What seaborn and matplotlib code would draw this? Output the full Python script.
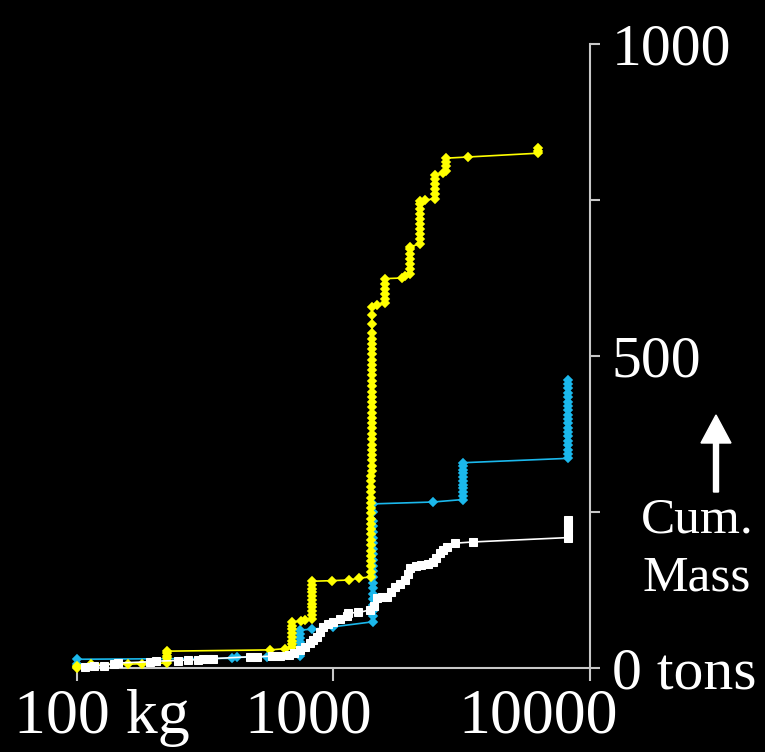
import matplotlib
matplotlib.use("Agg")
import matplotlib.pyplot as plt
import matplotlib.transforms as mtransforms
import pandas as pd
import seaborn as sns
from matplotlib.patches import FancyArrow

sns.set_style("dark", {"axes.facecolor": "black", "figure.facecolor": "black"})
plt.rcParams.update({
    "font.family": ["Liberation Serif", "DejaVu Serif"],
})

# yellow series: size (kg) vs cumulative mass (tons)
yellow_x = [100, 100, 100, 113, 158, 179,
            225, 225, 225, 225, 225, 225,
            565, 647,
            687, 687, 687, 687, 687, 687, 687, 687,
            745, 774,
            822, 822, 822, 822, 822, 822, 822, 822, 822, 822, 822,
            989, 1148, 1256,
            1400, 1400, 1400, 1400, 1400, 1400, 1400, 1400, 1400, 1400,
            1405, 1405, 1405, 1405, 1405, 1405, 1405, 1405, 1405, 1405,
            1410, 1410, 1410, 1410, 1410, 1410, 1410, 1410, 1410, 1410,
            1410, 1410, 1410, 1410, 1410, 1410, 1410, 1410, 1410, 1410,
            1415, 1415, 1415, 1415, 1415, 1415, 1415, 1415, 1415, 1415,
            1473,
            1589, 1589, 1589, 1589, 1589, 1589,
            1845, 1901,
            1986, 1986, 1986, 1986, 1986, 1986, 1986,
            2180, 2180, 2180, 2180, 2180, 2180, 2180, 2180, 2180, 2180,
            2275,
            2490, 2490, 2490, 2490, 2490, 2490,
            2680,
            2737, 2737, 2737, 2737,
            3357,
            6282, 6282, 6282]
yellow_y = [0, 2, 4, 6, 6, 7,
            8, 12, 16, 20, 24, 27,
            29, 31,
            33, 38, 44, 50, 56, 62, 68, 74,
            75, 77,
            79, 85, 91, 97, 103, 109, 115, 121, 127, 133, 139,
            140, 141, 144,
            146, 154, 163, 171, 180, 188, 197, 205, 214, 222,
            231, 239, 248, 256, 265, 273, 282, 290, 299, 307,
            316, 324, 333, 341, 350, 358, 367, 375, 384, 392,
            401, 409, 418, 426, 435, 443, 452, 460, 469, 477,
            486, 494, 503, 511, 520, 528, 537, 552, 566, 579,
            582,
            585, 592, 600, 608, 616, 624,
            625, 628,
            632, 640, 648, 656, 664, 672, 675,
            680, 688, 696, 704, 712, 720, 728, 736, 744, 748,
            750,
            752, 760, 768, 776, 784, 790,
            793,
            797, 804, 811, 817,
            819,
            825, 829, 834]

# cyan series
cyan_x = [100, 100, 401, 420, 549,
          740, 740, 740, 740, 740, 740, 740,
          822, 997,
          1422, 1422, 1422, 1422, 1422, 1422, 1422, 1422, 1422, 1422,
          1422, 1422, 1422, 1422, 1422, 1422, 1422, 1422, 1422, 1422, 1422,
          2439,
          3207, 3207, 3207, 3207, 3207, 3207, 3207, 3207, 3207, 3207, 3207,
          8224, 8224, 8224, 8224, 8224, 8224, 8224, 8224, 8224, 8224,
          8224, 8224, 8224, 8224, 8224, 8224, 8224, 8224, 8224]
cyan_y = [6, 14, 15.5, 17, 18,
          20, 27, 34, 41, 48, 55, 61,
          62, 66,
          74, 83, 92, 101, 110, 119, 128, 137, 146, 155,
          164, 173, 182, 191, 200, 209, 218, 227, 236, 250, 263,
          266,
          270, 276, 282, 288, 294, 300, 306, 312, 318, 324, 329,
          336, 343, 350, 357, 364, 371, 378, 385, 392, 399,
          406, 413, 420, 427, 434, 441, 448, 455, 461]

# white series
white_x = [107, 116, 127, 139, 145, 192, 204, 248, 272, 297, 311, 325, 338,
           472, 505, 575, 619, 668, 700, 740, 775, 810, 835, 860, 885, 912,
           950, 1000, 1060, 1126, 1142, 1251, 1390, 1440, 1472, 1540, 1616,
           1680, 1738, 1820, 1901, 1950, 1986, 2100, 2199, 2330, 2449, 2520,
           2601, 2680, 2763, 2973, 3504,
           8224, 8224, 8224, 8224, 8224]
white_y = [2, 3, 4, 7, 8, 10, 11, 12, 13, 13, 14, 14, 15,
           18, 18, 19, 20, 21, 24, 29, 34, 40, 45, 50, 58, 66,
           70, 74, 79, 84, 88, 89, 93, 100, 112, 113, 114,
           122, 130, 135, 141, 150, 160, 163, 165, 167, 170, 177,
           184, 189, 194, 200, 202,
           209, 217, 225, 233, 237]

x_ticks = [100, 1000, 10000]
x_labels = ["100 kg", "1000", "10000"]
y_ticks = [0, 250, 500, 750, 1000]
y_labels = ["0 tons", "", "500", "", "1000"]

yellow_df = pd.DataFrame({"size": yellow_x, "mass": yellow_y})
cyan_df = pd.DataFrame({"size": cyan_x, "mass": cyan_y})
white_df = pd.DataFrame({"size": white_x, "mass": white_y})

fig = plt.figure(figsize=(7.65, 7.52), dpi=100)
ax = fig.add_axes([77 / 765, 84 / 752, 513 / 765, 624 / 752])
ax.set_facecolor("black")

cyan = "#1BB8EC"
sns.lineplot(data=cyan_df, x="size", y="mass", ax=ax, sort=False, estimator=None,
             color=cyan, linewidth=1.2, marker="D", markersize=3.6,
             markeredgewidth=1.2, markeredgecolor=cyan, zorder=3, clip_on=False)
sns.lineplot(data=yellow_df, x="size", y="mass", ax=ax, sort=False, estimator=None,
             color="#FFFF00", linewidth=1.2, marker="D", markersize=3.6,
             markeredgewidth=1.2, markeredgecolor="#FFFF00", zorder=4, clip_on=False)
sns.lineplot(data=white_df, x="size", y="mass", ax=ax, sort=False, estimator=None,
             color="white", linewidth=1.2, marker="s", markersize=6,
             markeredgecolor="white", zorder=5, clip_on=False)

ax.set_xscale("log")
ax.set_xlim(100, 10000)
ax.set_ylim(0, 1000)
ax.set_xlabel("")
ax.set_ylabel("")
ax.grid(False)

ax.set_xticks(x_ticks)
ax.set_xticklabels(x_labels)
ax.xaxis.set_minor_locator(matplotlib.ticker.NullLocator())
ax.yaxis.tick_right()
ax.set_yticks(y_ticks)
ax.set_yticklabels(y_labels)

for side in ["left", "top"]:
    ax.spines[side].set_visible(False)
for side in ["right", "bottom"]:
    ax.spines[side].set_visible(True)
    ax.spines[side].set_color("#C8C8C8")
    ax.spines[side].set_linewidth(1.5)

ax.tick_params(axis="x", direction="out", length=9, width=1.5, color="#C8C8C8",
               labelcolor="white", labelsize=46, pad=6, bottom=True)
ax.tick_params(axis="y", direction="out", length=7.5, width=1.5, color="#C8C8C8",
               labelcolor="white", labelsize=43, pad=8, right=True, left=False)

# the reference places the x labels off their ticks
shifts = [0.25, -0.25, -0.52]
for lab, dx in zip(ax.get_xticklabels(), shifts):
    lab.set_transform(lab.get_transform() +
                      mtransforms.ScaledTranslation(dx, 0, fig.dpi_scale_trans))

fig.text(697 / 765, 1 - 520 / 752, "Cum.", color="white", fontsize=37,
         ha="center", va="center")
fig.text(697 / 765, 1 - 578 / 752, "Mass", color="white", fontsize=37,
         ha="center", va="center")
fig.patches.append(FancyArrow(7.16, 2.60, 0, 0.77, width=0.05, head_width=0.30,
                              head_length=0.28, length_includes_head=True,
                              color="white", transform=fig.dpi_scale_trans))

fig.savefig("out.png", dpi=100, facecolor="black")
